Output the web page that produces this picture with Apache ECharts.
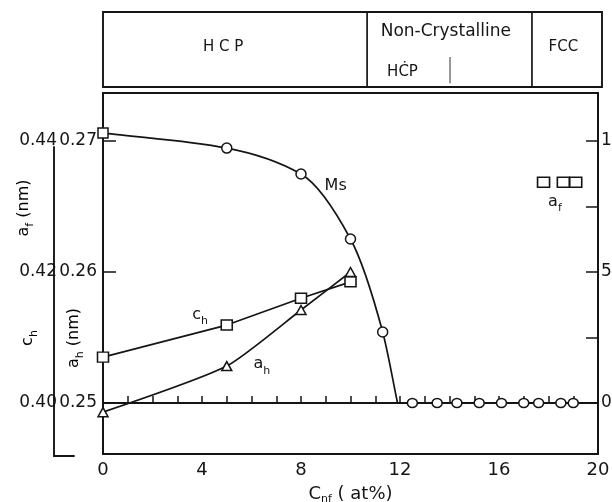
<!DOCTYPE html>
<html><head><meta charset="utf-8">
<script src="https://cdn.jsdelivr.net/npm/echarts@6/dist/echarts.min.js"></script>
<style>html,body{margin:0;padding:0;background:#fff}#c{width:612px;height:502px}</style>
</head><body><div id="c"></div>
<script>
// ---- data ----
const msX = [0, 5, 8, 10, 11.3];
const msY = [10.31, 9.73, 8.74, 6.26, 2.71];
const msDrop = [11.9, 0];            // where the Ms curve reaches zero
const msEnd = [20, 0];               // line continues to right axis
const msFlatX = [12.5, 13.5, 14.3, 15.2, 16.1, 17.0, 17.6, 18.5, 19.0];
const msFlatY = [0, 0, 0, 0, 0, 0, 0, 0, 0];
const chX = [0, 5, 8, 10];
const chY = [0.4070, 0.4119, 0.4160, 0.4185];
const ahX = [0, 5, 8, 10];
const ahY = [0.24930, 0.25282, 0.25710, 0.26000];
const afX = [17.8, 18.6, 19.1];
const afY = [0.4337, 0.4337, 0.4337];
const ahTicks = [0.25, 0.26, 0.27];
const outerTicks = [0.40, 0.42, 0.44];
const msTicks = [0, 5, 10];
const msAllTicks = [0, 2.5, 5, 7.5, 10];
const phaseBounds = [10.67, 17.33];
const subBound = 14.02;
const phaseText = ['H C P', 'Non-Crystalline', 'HĊP', 'FCC'];
const phaseTextX = [4.85, 13.85, 12.1, 18.6];
const phaseTextY = [0.53, 0.74, 0.2, 0.53];
const noteText = ['{m|Ms}', '{m|c}{s|h}', '{m|a}{s|h}', '{m|a}{s|f}'];
const noteX = [9.4, 3.92, 6.42, 18.26];
const noteY = [8.2, 3.3, 1.4, 7.6];

const INK = '#151515';
const FONT = 'DejaVu Sans';
const zip = (a, b) => a.map((v, i) => [v, b[i]]);
const mk = {color: '#fff', borderColor: INK, borderWidth: 1.5, opacity: 1};
const rich = {
  m: {fontSize: 16, fontFamily: FONT, color: INK, lineHeight: 20, verticalAlign: 'top'},
  s: {fontSize: 11, fontFamily: FONT, color: INK, lineHeight: 20, verticalAlign: 'bottom', padding: [8, 0, 0, 0]},
  b: {fontSize: 18, fontFamily: FONT, color: INK, lineHeight: 22},
  t: {fontSize: 11, fontFamily: FONT, color: INK, lineHeight: 22, padding: [10, 0, 0, 0]}
};

// monotone cubic (Fritsch–Butland) path through pixel points
function monoPath(P) {
  const n = P.length, dx = [], m = [], t = [];
  for (let i = 0; i < n - 1; i++) { dx[i] = P[i + 1][0] - P[i][0]; m[i] = (P[i + 1][1] - P[i][1]) / dx[i]; }
  t[0] = m[0]; t[n - 1] = m[n - 2];
  for (let i = 1; i < n - 1; i++) {
    if (m[i - 1] * m[i] <= 0) t[i] = 0;
    else t[i] = 3 * (dx[i - 1] + dx[i]) / ((2 * dx[i] + dx[i - 1]) / m[i - 1] + (dx[i] + 2 * dx[i - 1]) / m[i]);
  }
  let d = 'M' + P[0][0] + ' ' + P[0][1];
  for (let i = 0; i < n - 1; i++) {
    const h = dx[i] / 3;
    d += ' C' + (P[i][0] + h) + ' ' + (P[i][1] + t[i] * h) + ' ' + (P[i + 1][0] - h) + ' ' + (P[i + 1][1] - t[i + 1] * h) + ' ' + P[i + 1][0] + ' ' + P[i + 1][1];
  }
  return d;
}
function curveSeries(xs, ys, yIdx) {
  return {type: 'custom', xAxisIndex: 0, yAxisIndex: yIdx, data: [[xs[0], ys[0]]], silent: true, z: 2,
    renderItem: (params, api) => ({type: 'path', shape: {pathData: monoPath(xs.map((x, i) => api.coord([x, ys[i]])))},
      style: {stroke: INK, fill: 'none', lineWidth: 1.7}})};
}

const chart = echarts.init(document.getElementById('c'), null, {renderer: 'canvas'});
const axisLine = {show: true, lineStyle: {color: INK, width: 1.9}};
const textOnly = {opacity: 1, color: 'transparent'};

const msMarks = zip(msX, msY).map((p, i) => i === 0 ? {value: p, symbol: 'rect', symbolSize: [10, 10]} : p);
const msFlat = [{value: msDrop, symbol: 'none'}].concat(zip(msFlatX, msFlatY), [{value: msEnd, symbol: 'none'}]);

chart.setOption({
  animation: false,
  backgroundColor: '#fff',
  grid: [
    {left: 103, right: 14, top: 93, bottom: 48, show: true, borderColor: INK, borderWidth: 1.9, outerBoundsMode: 'none', containLabel: false},
    {left: 54, width: 20, top: 147, bottom: 46, outerBoundsMode: 'none', containLabel: false},
    {left: 103, right: 10, top: 12, bottom: 415, show: true, borderColor: INK, borderWidth: 1.9, outerBoundsMode: 'none', containLabel: false}
  ],
  xAxis: [
    {type: 'value', gridIndex: 0, min: 0, max: 20, interval: 4,
     axisLine, axisTick: {show: true, inside: true, length: 7, lineStyle: {color: INK, width: 1.5}},
     minorTick: {show: true, splitNumber: 4, length: 7, lineStyle: {color: INK, width: 1.5}},
     splitLine: {show: false},
     axisLabel: {fontSize: 18, fontFamily: FONT, color: INK, margin: 7},
     name: '{b|C}{t|nf}{b| ( at%)}', nameLocation: 'middle', nameGap: 24,
     nameTextStyle: {rich}},
    {type: 'value', gridIndex: 1, min: 0, max: 1, axisLine, axisTick: {show: false},
     axisLabel: {show: false}, splitLine: {show: false}},
    {type: 'value', gridIndex: 2, min: 0, max: 20.16, show: false}
  ],
  yAxis: [
    {type: 'value', gridIndex: 0, position: 'left', min: 0.246107, max: 0.273664,
     axisLine, splitLine: {show: false},
     axisTick: {show: true, inside: true, length: 13, customValues: ahTicks, lineStyle: {color: INK, width: 1.5}},
     axisLabel: {customValues: ahTicks, formatter: v => v.toFixed(2), fontSize: 17, fontFamily: FONT, color: INK, margin: 6, padding: [5, 0, 0, 0]}},
    {type: 'value', gridIndex: 0, position: 'left', offset: 48, min: 0.392214, max: 0.447328,
     axisLine: {show: false}, splitLine: {show: false}, axisTick: {show: false},
     axisLabel: {customValues: outerTicks, formatter: v => v.toFixed(2), fontSize: 17, fontFamily: FONT, color: INK, margin: -2, padding: [5, 0, 0, 0]}},
    {type: 'value', gridIndex: 0, position: 'right', min: -1.947, max: 11.832,
     axisLine, splitLine: {show: false},
     axisTick: {show: true, inside: true, length: 12, customValues: msAllTicks, lineStyle: {color: INK, width: 1.5}},
     axisLabel: {customValues: msTicks, fontSize: 17, fontFamily: FONT, color: INK, margin: 3}},
    {type: 'value', gridIndex: 1, min: 0, max: 1, axisLine, axisTick: {show: false},
     axisLabel: {show: false}, splitLine: {show: false}},
    {type: 'value', gridIndex: 2, min: 0, max: 1, show: false}
  ],
  series: [
    curveSeries(msX.concat([msDrop[0]]), msY.concat([msDrop[1]]), 2),
    {name: 'Ms', type: 'scatter', xAxisIndex: 0, yAxisIndex: 2, data: msMarks,
     symbol: 'circle', symbolSize: 10, itemStyle: mk, z: 3},
    {name: 'Ms0', type: 'line', xAxisIndex: 0, yAxisIndex: 2, data: msFlat,
     symbol: 'circle', symbolSize: [10, 9], itemStyle: mk, lineStyle: {color: INK, width: 1.7}, z: 3},
    {name: 'ch', type: 'line', xAxisIndex: 0, yAxisIndex: 1, data: zip(chX, chY),
     symbol: 'rect', symbolSize: [11, 10], itemStyle: mk, lineStyle: {color: INK, width: 1.7}, z: 4},
    {name: 'ah', type: 'line', xAxisIndex: 0, yAxisIndex: 0, data: zip(ahX, ahY),
     smooth: 0.2, symbol: 'triangle', symbolSize: [10, 9], itemStyle: mk, lineStyle: {color: INK, width: 1.7}, z: 4},
    {name: 'af', type: 'scatter', xAxisIndex: 0, yAxisIndex: 1, data: zip(afX, afY),
     symbol: 'rect', symbolSize: [12, 10], itemStyle: mk, z: 4},
    {name: 'notes', type: 'scatter', xAxisIndex: 0, yAxisIndex: 2, symbolSize: 1, silent: true,
     itemStyle: textOnly,
     data: noteText.map((t, i) => ({value: [noteX[i], noteY[i]], label: {formatter: t}})),
     label: {show: true, position: 'inside', rich, textBorderWidth: 0}},
    // phase box
    {name: 'b1', type: 'line', xAxisIndex: 2, yAxisIndex: 4, symbol: 'none',
     data: [[phaseBounds[0], 0], [phaseBounds[0], 1]], lineStyle: {color: INK, width: 1.7}},
    {name: 'b2', type: 'line', xAxisIndex: 2, yAxisIndex: 4, symbol: 'none',
     data: [[phaseBounds[1], 0], [phaseBounds[1], 1]], lineStyle: {color: INK, width: 1.7}},
    {name: 'b3', type: 'line', xAxisIndex: 2, yAxisIndex: 4, symbol: 'none',
     data: [[subBound, 0.05], [subBound, 0.4]], lineStyle: {color: '#555', width: 1.2}},
    {name: 'ptext', type: 'scatter', xAxisIndex: 2, yAxisIndex: 4, symbolSize: 1, silent: true,
     itemStyle: textOnly,
     data: phaseText.map((t, i) => ({value: [phaseTextX[i], phaseTextY[i]], label: {formatter: t, fontSize: i === 1 ? 17 : 15}})),
     label: {show: true, position: 'inside', fontFamily: FONT, color: INK, textBorderWidth: 0}}
  ],
  graphic: [
    {type: 'text', x: 26, y: 208, rotation: Math.PI / 2,
     style: {text: '{m|a}{s|f}{m| (nm)}', rich, align: 'center', verticalAlign: 'middle'}},
    {type: 'text', x: 30, y: 338, rotation: Math.PI / 2,
     style: {text: '{m|c}{s|h}', rich, align: 'center', verticalAlign: 'middle'}},
    {type: 'text', x: 76, y: 338, rotation: Math.PI / 2,
     style: {text: '{m|a}{s|h}{m| (nm)}', rich, align: 'center', verticalAlign: 'middle'}}
  ]
});
</script></body></html>
